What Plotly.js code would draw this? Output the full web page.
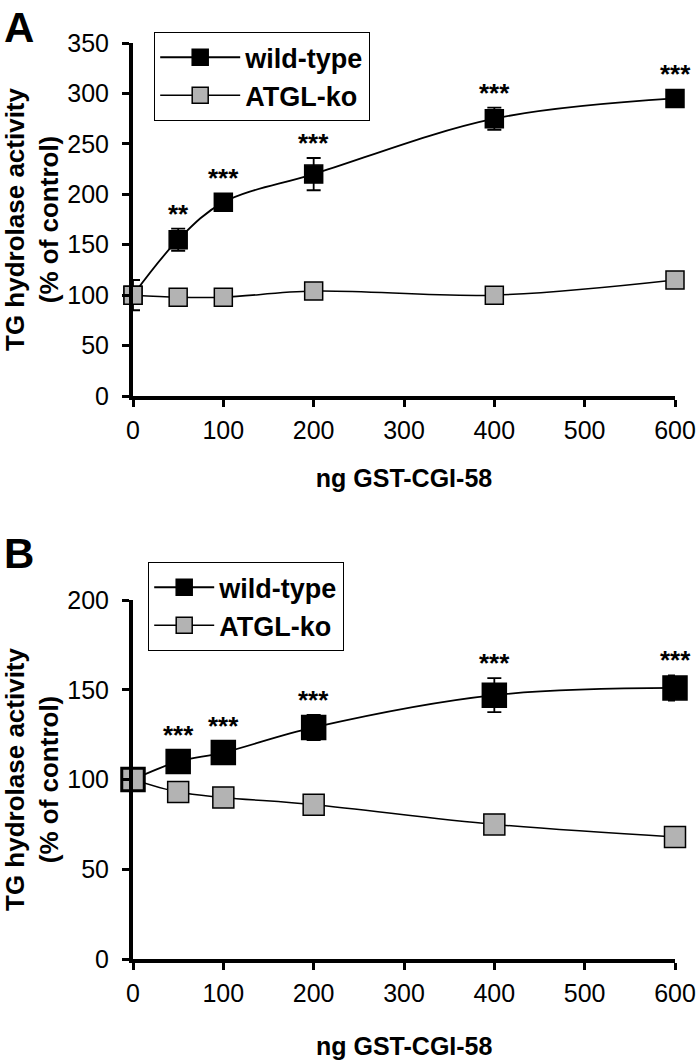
<!DOCTYPE html>
<html><head><meta charset="utf-8">
<script src="https://cdn.plot.ly/plotly-3.0.1.min.js"></script>
<style>html,body{margin:0;padding:0;background:#fff}#chart{width:697px;height:1062px}</style>
</head><body><div id="chart"></div>
<script>
// ---- data ----
const doses = [0, 50, 100, 200, 400, 600];
const seriesNames = ['wild-type', 'ATGL-ko'];
// Panel A
const wtA = [100, 155, 192, 220, 275, 295];
const wtAErr = [15, 11, 4, 16, 11, 3];
const koA = [100, 98, 98, 104, 100, 115];
const koAErr = [0, 0, 0, 0, 0, 0];
const sigA = ['', '**', '***', '***', '***', '***'];
// Panel B
const wtB = [100, 110, 115, 129, 147, 151];
const wtBErr = [2, 2, 2, 7, 9.5, 7];
const koB = [100, 93, 90, 86, 75, 68];
const koBErr = [0, 0, 0, 0, 0, 0];
const sigB = ['', '***', '***', '***', '***', '***'];
// ticks
const xTicks = [0, 100, 200, 300, 400, 500, 600];
const yTicksA = [0, 50, 100, 150, 200, 250, 300, 350];
const yTicksB = [0, 50, 100, 150, 200];
const panelLabels = ['A', 'B'];
const xTitle = 'ng GST-CGI-58';
const yTitle = 'TG hydrolase activity<br>(% of control)';

// ---- layout constants ----
const W = 697, H = 1062;
const FONT = 'Liberation Sans, Arial, Helvetica, sans-serif';
const xdom = [133 / W, 675 / W];
const ydomA = [1 - 396 / H, 1 - 43 / H];
const ydomB = [1 - 959 / H, 1 - 600 / H];
const rangeA = [0, 350], rangeB = [0, 200];
const msA = [18, 18], msB = [24, 21];
const GREY = '#b3b3b3';
const titleFont = {family: FONT, size: 25, weight: 'bold', color: '#000'};

function xAxis(anchor, title, standoff) {
  return {
    domain: xdom, anchor: anchor, range: [0, 600], tickvals: xTicks,
    ticks: 'outside', ticklen: 7, tickwidth: 3, tickcolor: '#000',
    showline: true, linewidth: 4, linecolor: '#000',
    showgrid: false, zeroline: false, fixedrange: true,
    tickfont: {family: FONT, size: 25, color: '#000'},
    ticklabelstandoff: 2,
    title: {text: title, standoff: standoff, font: titleFont}
  };
}
function yAxis(anchor, dom, range, tv) {
  return {
    domain: dom, anchor: anchor, range: range, tickvals: tv,
    ticks: 'outside', ticklen: 7, tickwidth: 3, tickcolor: '#000',
    showline: true, linewidth: 4, linecolor: '#000',
    showgrid: false, zeroline: false, fixedrange: true,
    tickfont: {family: FONT, size: 25, color: '#000'},
    ticklabelstandoff: 8,
    title: {text: yTitle, standoff: 8, font: {family: FONT, size: 26, weight: 'bold', color: '#000'}}
  };
}

function makeTrace(name, y, err, xa, ya, ms, fill, legend, lw) {
  return {
    type: 'scatter', mode: 'lines+markers', name: name,
    x: doses, y: y, xaxis: xa, yaxis: ya, legend: legend,
    cliponaxis: false,
    line: {color: '#000', width: lw, shape: 'spline', smoothing: 1},
    marker: {symbol: 'square', size: ms, color: fill, line: {color: '#000', width: 1.5}},
    error_y: {type: 'data', array: err, visible: true, color: '#000', thickness: 1.8, width: 7},
    hoverinfo: 'x+y'
  };
}

const traces = [
  makeTrace(seriesNames[0], wtA, wtAErr, 'x', 'y', msA[0], '#000', 'legend', 1.8),
  makeTrace(seriesNames[1], koA, koAErr, 'x', 'y', msA[1], GREY, 'legend', 1.5),
  makeTrace(seriesNames[0], wtB, wtBErr, 'x2', 'y2', msB[0], '#000', 'legend2', 1.8),
  makeTrace(seriesNames[1], koB, koBErr, 'x2', 'y2', msB[1], GREY, 'legend2', 1.5)
];

// significance annotations placed above the top of marker / error bar
function ppu(dom, range) { return (dom[1] - dom[0]) * H / (range[1] - range[0]); }
const ann = [];
function addSig(sig, vals, errs, ms, xref, yref, dom, range) {
  const k = ppu(dom, range);
  sig.forEach(function (s, i) {
    if (!s) return;
    const topPx = Math.max(ms / 2, errs[i] * k);
    ann.push({
      x: doses[i], y: vals[i], xref: xref, yref: yref, text: s, showarrow: false,
      yanchor: 'bottom', yshift: topPx - 2,
      font: {family: FONT, size: 26, weight: 'bold', color: '#000'}
    });
  });
}
addSig(sigA, wtA, wtAErr, msA[0], 'x', 'y', ydomA, rangeA);
addSig(sigB, wtB, wtBErr, msB[0], 'x2', 'y2', ydomB, rangeB);
ann.push({xref: 'paper', yref: 'paper', x: 2 / W, y: 1 - 2 / H, xanchor: 'left', yanchor: 'top',
  text: panelLabels[0], showarrow: false, font: {family: FONT, size: 42, weight: 'bold', color: '#000'}});
ann.push({xref: 'paper', yref: 'paper', x: 2 / W, y: 1 - 528 / H, xanchor: 'left', yanchor: 'top',
  text: panelLabels[1], showarrow: false, font: {family: FONT, size: 42, weight: 'bold', color: '#000'}});
// x-axis title of panel B (drawn as annotation: an axis title would be clamped at the page edge)
ann.push({xref: 'x2 domain', yref: 'paper', x: 0.5, y: 1 - 1046 / H, xanchor: 'center', yanchor: 'middle',
  text: xTitle, showarrow: false, font: titleFont});

const legendBase = {
  bgcolor: '#fff', bordercolor: '#000', borderwidth: 1.2,
  xanchor: 'left', yanchor: 'top', tracegroupgap: 0,
  font: {family: FONT, size: 27, weight: 'bold', color: '#000'}
};

const layout = {
  width: W, height: H,
  margin: {l: 0, r: 0, t: 0, b: 0},
  paper_bgcolor: '#fff', plot_bgcolor: 'rgba(0,0,0,0)',
  showlegend: true,
  xaxis: xAxis('y', xTitle, 27),
  yaxis: yAxis('x', ydomA, rangeA, yTicksA),
  xaxis2: xAxis('y2', '', 27),
  yaxis2: yAxis('x2', ydomB, rangeB, yTicksB),
  legend: Object.assign({}, legendBase, {x: 154 / W, y: 1 - 32 / H, itemwidth: 80}),
  legend2: Object.assign({}, legendBase, {x: 148 / W, y: 1 - 562 / H, itemwidth: 60}),
  annotations: ann
};

Plotly.newPlot('chart', traces, layout, {displayModeBar: false, staticPlot: true});
</script>
</body></html>
